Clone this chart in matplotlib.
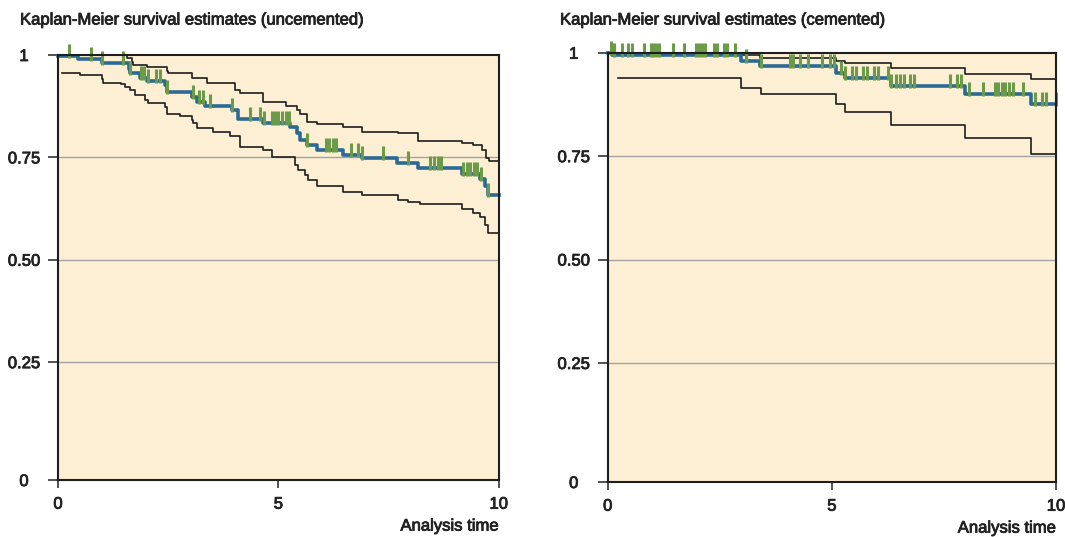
import numpy as np
import matplotlib
matplotlib.use('Agg')
from matplotlib import pyplot as plt
from matplotlib.path import Path
from matplotlib import patheffects

plt.rcParams['font.family'] = ['Liberation Sans', 'DejaVu Sans']

# uncemented: Kaplan-Meier estimate and 95% bands (time in years)
km_unc_t = [0, 0.46, 0.99, 1.60, 1.63, 1.86, 2.01, 2.43, 2.47, 3.03, 3.15, 3.34, 3.94, 4.09,
            4.66, 5.26, 5.42, 5.49, 5.64, 5.87, 6.47, 6.89, 7.69, 8.18, 9.16, 9.58, 9.69, 9.76, 10]
km_unc_s = [0.998, 0.990, 0.980, 0.967, 0.955, 0.943, 0.937, 0.927, 0.910, 0.898, 0.886, 0.875,
            0.866, 0.843, 0.833, 0.823, 0.809, 0.793, 0.780, 0.768, 0.756, 0.748, 0.737, 0.723,
            0.709, 0.697, 0.679, 0.658, 0.658]
hi_unc_t = [0, 1.56, 1.67, 1.71, 2.01, 2.47, 2.50, 3.03, 3.37, 4.02, 4.13, 4.66, 5.17, 5.42,
            5.49, 5.64, 5.87, 6.47, 6.89, 7.72, 8.18, 9.16, 9.42, 9.62, 9.72, 9.78, 10]
hi_unc_s = [1.0, 0.992, 0.984, 0.976, 0.970, 0.962, 0.955, 0.943, 0.932, 0.915, 0.906, 0.886,
            0.875, 0.866, 0.856, 0.837, 0.832, 0.823, 0.813, 0.809, 0.791, 0.786, 0.780, 0.768,
            0.748, 0.742, 0.742]
lo_unc_t = [0.08, 0.50, 0.99, 1.03, 1.44, 1.52, 1.63, 1.75, 1.97, 2.05, 2.43, 2.47, 2.77, 3.03,
            3.07, 3.15, 3.52, 3.90, 4.13, 4.66, 4.85, 5.38, 5.45, 5.60, 5.68, 5.87, 6.47, 6.89,
            7.72, 7.95, 8.21, 9.16, 9.42, 9.58, 9.69, 9.76, 10]
lo_unc_s = [0.955, 0.951, 0.941, 0.932, 0.928, 0.923, 0.915, 0.902, 0.890, 0.884, 0.874, 0.856,
            0.850, 0.841, 0.833, 0.821, 0.813, 0.801, 0.776, 0.768, 0.752, 0.731, 0.720, 0.707,
            0.695, 0.679, 0.666, 0.658, 0.646, 0.642, 0.635, 0.624, 0.613, 0.605, 0.585, 0.565,
            0.565]
cens_unc = [0.25, 0.74, 0.99, 1.48, 1.63, 1.88, 1.96, 2.05, 2.22, 2.31, 2.47, 3.06, 3.21, 3.28,
            3.46, 3.94, 4.36, 4.58, 4.67, 4.85, 4.92, 5.00, 5.08, 5.17, 5.25, 5.66, 6.07, 6.15,
            6.23, 6.31, 6.64, 6.81, 6.89, 7.38, 7.95, 8.44, 8.53, 8.62, 8.70, 9.18, 9.27, 9.35,
            9.44, 9.51, 9.60, 9.76]

# cemented
km_cem_t = [0, 0.10, 2.98, 3.40, 5.10, 5.29, 6.33, 7.97, 9.45, 10]
km_cem_s = [1.0, 0.995, 0.981, 0.969, 0.951, 0.939, 0.920, 0.901, 0.877, 0.877]
hi_cem_t = [0, 2.98, 3.40, 5.10, 5.29, 6.33, 7.97, 9.45, 10]
hi_cem_s = [1.0, 0.994, 0.987, 0.980, 0.975, 0.963, 0.949, 0.937, 0.937]
lo_cem_t = [0.24, 2.98, 3.41, 5.10, 5.29, 6.33, 7.97, 9.45, 10]
lo_cem_s = [0.939, 0.914, 0.901, 0.877, 0.857, 0.825, 0.794, 0.755, 0.755]
cens_cem = [0.07, 0.14, 0.33, 0.46, 0.55, 0.81, 0.96, 1.02, 1.08, 1.14, 1.45, 1.70, 1.97, 2.04,
            2.10, 2.18, 2.37, 2.44, 2.59, 2.66, 2.85, 3.08, 3.41, 4.06, 4.14, 4.30, 4.47, 4.79,
            4.96, 5.04, 5.20, 5.29, 5.44, 5.53, 5.69, 5.78, 5.93, 6.02, 6.26, 6.33, 6.43, 6.52,
            6.61, 6.74, 6.83, 7.64, 7.80, 7.89, 8.05, 8.37, 8.64, 8.71, 8.79, 8.86, 8.95, 9.04,
            9.27, 9.53, 9.68, 9.77, 10.0]

y_ticks = [0, 0.25, 0.5, 0.75, 1]
y_labels = ['0', '0.25', '0.50', '0.75', '1']
x_ticks = [0, 5, 10]

BG = '#fdefd3'
BLUE = '#2b6a94'
GREEN = '#6b9a48'
DARK = '#1e1e1e'
TEXT = '#222222'

# slightly heavier text, like the medium weight of the original
bold_fx = [patheffects.withStroke(linewidth=0.6, foreground=TEXT)]

# the original stretches the bottom quarter of the y axis a little
STRETCH = 118 / 102.5


def fwd(y):
    y = np.asarray(y, dtype=float)
    return np.where(y >= 0.25, y, 0.25 - (0.25 - y) * STRETCH)


def inv(v):
    v = np.asarray(v, dtype=float)
    return np.where(v >= 0.25, v, 0.25 - (0.25 - v) / STRETCH)


censor_marker = Path([(0, -0.15), (0, 1)], [Path.MOVETO, Path.LINETO])


def draw_panel(ax, title, title_x, km_t, km_s, hi_t, hi_s, lo_t, lo_s, cens):
    ax.set_facecolor(BG)
    ax.set_yscale('function', functions=(fwd, inv))
    ax.set_xlim(0, 10)
    ax.set_ylim(0, 1)

    for v in [0.25, 0.5, 0.75]:
        ax.axhline(v, color='#a3a3a3', lw=1.0, zorder=1)

    ax.step(hi_t, hi_s, where='post', color=DARK, lw=1.2, zorder=3, clip_on=False)
    ax.step(lo_t, lo_s, where='post', color=DARK, lw=1.2, zorder=3, clip_on=False)
    ax.step(km_t, km_s, where='post', color=BLUE, lw=2.6, zorder=4, clip_on=False)

    idx = np.searchsorted(km_t, cens, side='right') - 1
    cens_y = np.asarray(km_s)[idx]
    ax.plot(cens, cens_y, linestyle='none', marker=censor_marker, markersize=17,
            markeredgewidth=2.2, color=GREEN, zorder=5, clip_on=False)

    for s in ax.spines.values():
        s.set_color(DARK)
        s.set_linewidth(1.5)
        s.set_zorder(6)

    ax.set_xticks(x_ticks)
    ax.set_xticklabels([str(t) for t in x_ticks])
    ax.set_yticks(y_ticks)
    ax.set_yticklabels(y_labels)
    ax.yaxis.set_minor_locator(plt.NullLocator())
    ax.tick_params(axis='x', length=6, width=1.2, color='#333333', labelsize=12, pad=6,
                   labelcolor=TEXT)
    ax.tick_params(axis='y', length=7.5, width=1.2, color='#333333', labelsize=12, pad=17,
                   labelcolor=TEXT)
    for lab in ax.get_yticklabels():
        lab.set_horizontalalignment('center')
        lab.set_path_effects(bold_fx)
    for lab in ax.get_xticklabels():
        lab.set_path_effects(bold_fx)
    xl = ax.set_xlabel('Analysis time', loc='right', fontsize=12, labelpad=5, color=TEXT)
    xl.set_path_effects(bold_fx)

    fig.text(title_x, 1 - 20 / 537, title, fontsize=12, va='center', ha='left', color=TEXT,
             path_effects=bold_fx)


fig = plt.figure(figsize=(10.65, 5.37), dpi=100)
ax1 = fig.add_axes([58 / 1065, 1 - 480 / 537, 440.7 / 1065, 425 / 537])
ax2 = fig.add_axes([607.7 / 1065, 1 - 482 / 537, 448.3 / 1065, 429.3 / 537])

draw_panel(ax1, 'Kaplan-Meier survival estimates (uncemented)', 20 / 1065,
           km_unc_t, km_unc_s, hi_unc_t, hi_unc_s, lo_unc_t, lo_unc_s, cens_unc)
draw_panel(ax2, 'Kaplan-Meier survival estimates (cemented)', 560 / 1065,
           km_cem_t, km_cem_s, hi_cem_t, hi_cem_s, lo_cem_t, lo_cem_s, cens_cem)

fig.savefig('out.png', dpi=100)
